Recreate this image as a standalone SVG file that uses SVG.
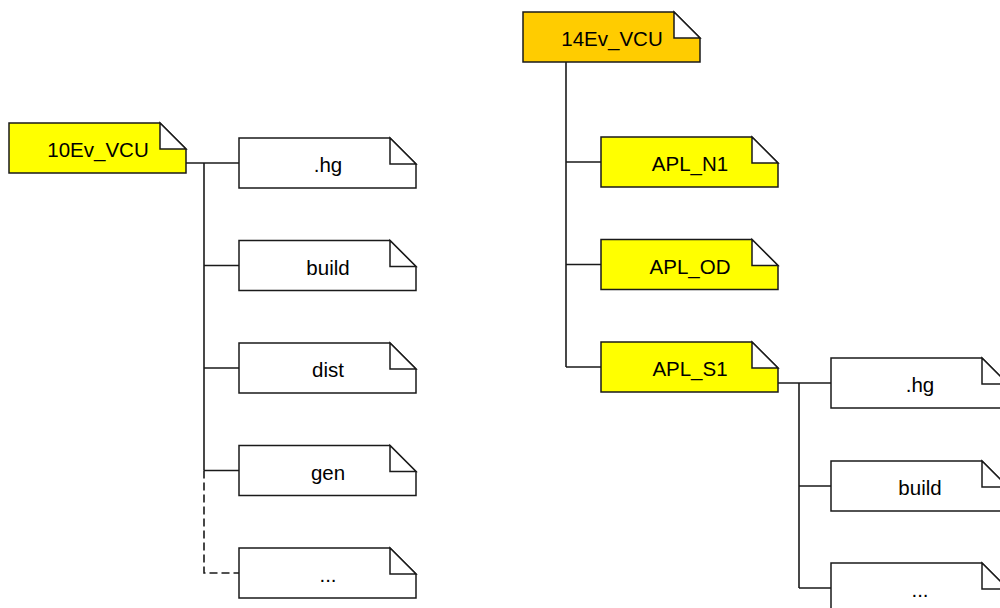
<svg xmlns="http://www.w3.org/2000/svg" xmlns:xlink="http://www.w3.org/1999/xlink" width="1000" height="608" viewBox="0 0 1000 608">
  <style>
    .note { stroke: #1a1a1a; stroke-width: 1.5; }
    .fold { fill: #ffffff; stroke: #1a1a1a; stroke-width: 1.5; }
    .plain { fill: #ffffff; }
    .yellow { fill: #ffff00; }
    .orange { fill: #ffcc00; }
    .label { font-family: "Liberation Sans", Arial, sans-serif; font-size: 20.5px; fill: #000000; text-anchor: middle; }
    .conn { fill: none; stroke: #1a1a1a; stroke-width: 1.6; }
    .dashed { stroke-dasharray: 8 4; }
  </style>
  <defs>
    <!-- folder note: 177 x 50 with a 26 px folded corner -->
    <path id="noteBody" d="M0,0 H151 L177,26 V50 H0 Z"/>
    <path id="noteFold" d="M151,0 V26 H177 Z"/>
  </defs>

  <rect width="1000" height="608" fill="#ffffff"/>

  <g id="connectors">
    <!-- 10Ev_VCU tree -->
    <path class="conn" d="M186,163 H239"/>
    <path class="conn" d="M204,163 V470.5"/>
    <path class="conn" d="M204,265.5 H239 M204,368 H239 M204,470.5 H239"/>
    <path class="conn dashed" d="M204,470.5 V573 H239"/>
    <!-- 14Ev_VCU tree -->
    <path class="conn" d="M566,61 V367"/>
    <path class="conn" d="M566,162 H601 M566,264.5 H601 M566,367 H601"/>
    <!-- APL_S1 subtree -->
    <path class="conn" d="M778,383 H831"/>
    <path class="conn" d="M799,383 V588"/>
    <path class="conn" d="M799,486 H831 M799,588 H831"/>
  </g>

  <g id="n10Ev_VCU" transform="translate(9,123)">
    <use xlink:href="#noteBody" class="note yellow"/>
    <use xlink:href="#noteFold" class="fold"/>
    <text class="label" x="89" y="34">10Ev_VCU</text>
  </g>
  <g id="n10_hg" transform="translate(239,138)">
    <use xlink:href="#noteBody" class="note plain"/>
    <use xlink:href="#noteFold" class="fold"/>
    <text class="label" x="89" y="34">.hg</text>
  </g>
  <g id="n10_build" transform="translate(239,240.5)">
    <use xlink:href="#noteBody" class="note plain"/>
    <use xlink:href="#noteFold" class="fold"/>
    <text class="label" x="89" y="34">build</text>
  </g>
  <g id="n10_dist" transform="translate(239,343)">
    <use xlink:href="#noteBody" class="note plain"/>
    <use xlink:href="#noteFold" class="fold"/>
    <text class="label" x="89" y="34">dist</text>
  </g>
  <g id="n10_gen" transform="translate(239,445.5)">
    <use xlink:href="#noteBody" class="note plain"/>
    <use xlink:href="#noteFold" class="fold"/>
    <text class="label" x="89" y="34">gen</text>
  </g>
  <g id="n10_more" transform="translate(239,548)">
    <use xlink:href="#noteBody" class="note plain"/>
    <use xlink:href="#noteFold" class="fold"/>
    <text class="label" x="89" y="34">...</text>
  </g>

  <g id="n14Ev_VCU" transform="translate(523,12)">
    <use xlink:href="#noteBody" class="note orange"/>
    <use xlink:href="#noteFold" class="fold"/>
    <text class="label" x="89" y="34">14Ev_VCU</text>
  </g>
  <g id="nAPL_N1" transform="translate(601,137)">
    <use xlink:href="#noteBody" class="note yellow"/>
    <use xlink:href="#noteFold" class="fold"/>
    <text class="label" x="89" y="34">APL_N1</text>
  </g>
  <g id="nAPL_OD" transform="translate(601,239.5)">
    <use xlink:href="#noteBody" class="note yellow"/>
    <use xlink:href="#noteFold" class="fold"/>
    <text class="label" x="89" y="34">APL_OD</text>
  </g>
  <g id="nAPL_S1" transform="translate(601,342)">
    <use xlink:href="#noteBody" class="note yellow"/>
    <use xlink:href="#noteFold" class="fold"/>
    <text class="label" x="89" y="34">APL_S1</text>
  </g>
  <g id="nS1_hg" transform="translate(831,358)">
    <use xlink:href="#noteBody" class="note plain"/>
    <use xlink:href="#noteFold" class="fold"/>
    <text class="label" x="89" y="34">.hg</text>
  </g>
  <g id="nS1_build" transform="translate(831,461)">
    <use xlink:href="#noteBody" class="note plain"/>
    <use xlink:href="#noteFold" class="fold"/>
    <text class="label" x="89" y="34">build</text>
  </g>
  <g id="nS1_more" transform="translate(831,563)">
    <use xlink:href="#noteBody" class="note plain"/>
    <use xlink:href="#noteFold" class="fold"/>
    <text class="label" x="89" y="34">...</text>
  </g>
</svg>
